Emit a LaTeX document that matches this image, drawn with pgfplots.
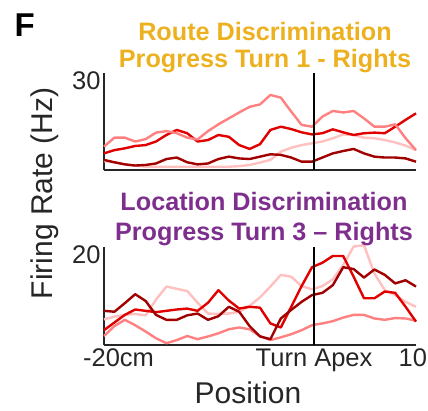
\documentclass[border=0pt]{standalone}
\usepackage{fontspec}
\setmainfont{Liberation Sans}
\usepackage{pgfplots}
\pgfplotsset{compat=1.18}
\usepackage{pgfplotstable}
\definecolor{dkred}{RGB}{160,0,0}
\definecolor{mdred}{RGB}{225,0,0}
\definecolor{salmon}{RGB}{255,128,128}
\definecolor{ltpink}{RGB}{255,192,192}
\definecolor{mlorange}{RGB}{237,177,32}
\definecolor{mlpurple}{RGB}{126,47,142}
\definecolor{axgray}{RGB}{38,38,38}

\pgfplotstableread{
x dk rd sa pk
-20 3.4 5.6 7.9 3.0
-19 2.6 6.7 10.9 2.6
-18 1.9 7.3 10.9 1.9
-17 1.5 8.1 9.6 1.5
-16 1.7 8.4 10.4 1.1
-15 2.2 9.6 12.6 1.1
-14 3.7 11.8 13.1 1.1
-13 4.2 13.5 12.4 1.1
-12 2.6 12.4 10.9 1.1
-11 1.9 9.6 10.3 1.1
-10 2.2 10.1 13.1 1.1
-9 3.7 11.8 15.4 1.1
-8 4.5 11.2 17.4 1.1
-7 3.9 8.4 19.4 1.3
-6 3.7 7.1 21.3 1.7
-5 4.5 8.7 22.1 2.5
-4 5.3 13.5 25.3 3.4
-3 5.1 14.6 24.4 6.2
-2 4.2 13.8 19.7 7.5
-1 2.8 12.7 15.2 8.4
0 2.8 12.0 14.6 9.0
1 4.2 12.4 18.0 9.6
2 5.6 13.7 19.9 10.7
3 6.4 12.7 19.4 12.0
4 7.1 11.8 19.9 11.8
5 5.6 12.4 17.4 10.9
6 4.5 12.6 14.6 10.7
7 4.2 12.4 14.6 10.1
8 4.2 14.6 15.4 9.3
9 3.9 16.9 10.7 8.2
10 2.8 19.1 6.7 6.7
}\toptable

\pgfplotstableread{
x dk rd sa pk
-20 7.6 3.3 2.0 5.7
-19 7.4 5.0 4.2 6.3
-18 9.3 6.7 5.6 6.7
-17 11.3 7.9 4.4 6.9
-16 9.8 7.6 3.0 6.6
-15 6.7 7.3 1.5 10.1
-14 5.6 7.6 0.4 13.0
-13 5.6 7.9 1.1 12.5
-12 6.6 8.1 2.0 12.0
-11 7.0 7.6 1.3 9.4
-10 5.6 9.4 1.9 7.0
-9 6.4 12.2 2.6 6.9
-8 8.5 9.9 3.5 7.0
-7 7.4 8.1 3.9 7.4
-6 4.2 8.5 3.5 8.7
-5 1.9 8.3 2.0 10.6
-4 1.3 4.8 1.1 13.0
-3 5.9 3.9 1.7 15.6
-2 7.8 8.5 2.4 15.2
-1 9.6 13.1 3.3 13.1
0 11.1 17.3 4.4 12.4
1 11.6 18.3 4.8 13.1
2 13.3 19.8 5.3 14.6
3 17.3 19.8 6.1 17.8
4 16.9 15.2 6.7 21.9
5 15.0 10.4 6.7 22.2
6 16.8 10.4 5.9 15.9
7 15.6 11.9 5.6 12.2
8 13.7 11.6 6.0 11.1
9 14.4 8.5 5.9 9.6
10 13.0 5.2 5.4 8.5
}\bottable

\pgfplotsset{
  myax/.style={
    scale only axis, width=312pt,
    xmin=-20, xmax=10, ymin=0,
    axis x line*=bottom, axis y line*=left,
    axis line style={axgray, line width=1.3pt, -},
    major tick length=0pt,
    tick label style={font=\fontsize{25.5}{25.5}\selectfont, text=axgray},
    /pgf/number format/assume math mode=true,
    clip=false,
    every axis plot/.append style={line width=2.4pt, line join=round, mark=none},
  }
}

\begin{document}
\begin{tikzpicture}[x=1pt,y=1pt]
\useasboundingbox (0,0) rectangle (428,410);

\begin{axis}[myax, at={(104pt,240pt)}, anchor=south west, height=97pt,
  ymax=32.7, ytick={30}, xtick=\empty]
  \addplot[ltpink] table[x=x,y=pk] {\toptable};
  \addplot[dkred] table[x=x,y=dk] {\toptable};
  \addplot[mdred] table[x=x,y=rd] {\toptable};
  \addplot[salmon] table[x=x,y=sa] {\toptable};
  \addplot[black, line width=1.6pt] coordinates {(0.2,0) (0.2,32.7)};
\end{axis}

\begin{axis}[myax, at={(104pt,65pt)}, anchor=south west, height=98pt,
  ymax=21.8, ytick={20}, xtick={-18.6,0.2,9.7},
  xticklabels={-20cm,Turn Apex,10}]
  \addplot[salmon] table[x=x,y=sa] {\bottable};
  \addplot[ltpink] table[x=x,y=pk] {\bottable};
  \addplot[mdred] table[x=x,y=rd] {\bottable};
  \addplot[dkred] table[x=x,y=dk] {\bottable};
  \addplot[black, line width=1.6pt] coordinates {(0.2,0) (0.2,21.8)};
\end{axis}

\node[anchor=base west, inner sep=0pt, font=\fontsize{33}{33}\selectfont\bfseries] at (14.5,373) {F};
\node[anchor=base, inner sep=0pt, text=mlorange, font=\fontsize{25.2}{25.2}\selectfont\bfseries] at (265,369) {Route Discrimination};
\node[anchor=base, inner sep=0pt, text=mlorange, font=\fontsize{25.2}{25.2}\selectfont\bfseries] at (265,342) {Progress Turn 1 - Rights};
\node[anchor=base, inner sep=0pt, text=mlpurple, font=\fontsize{25.2}{25.2}\selectfont\bfseries] at (264,199) {Location Discrimination};
\node[anchor=base, inner sep=0pt, text=mlpurple, font=\fontsize{25.2}{25.2}\selectfont\bfseries] at (264,170) {Progress Turn 3 – Rights};
\node[anchor=base, inner sep=0pt, text=axgray, font=\fontsize{30}{30}\selectfont] at (248,6.5) {Position};
\node[rotate=90, anchor=base, inner sep=0pt, text=axgray, font=\fontsize{30}{30}\selectfont] at (52.5,216.7) {Firing Rate (Hz)};
\end{tikzpicture}
\end{document}
